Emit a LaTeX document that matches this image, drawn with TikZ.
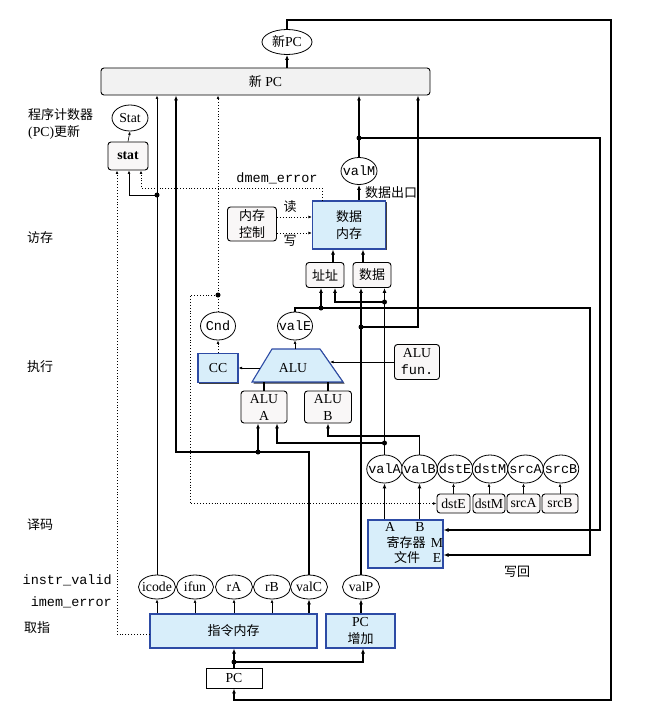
\documentclass[tikz,border=0pt]{standalone}
\usepackage{fontspec}
\setmainfont{Liberation Serif}[Scale=1.1]
\setmonofont{Liberation Mono}[Scale=1.08]
\newfontfamily\cjk{Noto Sans CJK SC}[Scale=1.04]
\usetikzlibrary{shapes.geometric,arrows.meta,shadows}
\newcommand\zh[1]{{\cjk #1}}
\newcommand\E[1]{\makebox[0pt][c]{#1}}
\definecolor{lblue}{RGB}{216,238,250}
\definecolor{bblue}{RGB}{45,75,165}
\definecolor{bgray}{RGB}{249,247,247}
\begin{document}
\begin{tikzpicture}[x=1pt,y=-1pt,font=\fontsize{12.5}{17}\selectfont,
 rbox/.style={draw=black,line width=0.9pt,fill=bgray,rounded corners=3pt,inner sep=0pt,align=center},
 bbox/.style={draw=bblue,line width=1.1pt,fill=lblue,inner sep=0pt,align=center,drop shadow={shadow xshift=1.4pt,shadow yshift=-1.4pt,fill=black!75,opacity=1}},
 ell/.style={draw,ellipse,line width=0.8pt,fill=white,inner sep=0pt},
 tk/.style={line width=1.7pt},
 tn/.style={line width=0.6pt},
 dt/.style={line width=0.9pt,dotted},
 tka/.style={tk,-{Latex[length=5pt,width=4pt]}},
 tna/.style={tn,-{Latex[length=3.5pt,width=2.8pt]}},
 dta/.style={dt,-{Latex[length=3.5pt,width=2.8pt]}},
 jdot/.style={circle,fill=black,inner sep=0pt,minimum size=5pt},
 lab/.style={inner sep=0pt}
]
\fill[white] (0,0) rectangle (647,709);
\useasboundingbox (0,0) rectangle (647,709);

% ---------- stage labels ----------
\node[lab,anchor=west,align=left] (pcu) at (28,124) {\zh{程序计数器}\\(PC)\zh{更新}};
\node[lab] (smem) at (40,238) {\zh{访存}};
\node[lab] (sexe) at (40,367) {\zh{执行}};
\node[lab] (sdec) at (40,525) {\zh{译码}};
\node[lab] (sfet) at (37,628) {\zh{取指}};
\node[lab,anchor=east] (iv) at (112,580) {\ttfamily instr\_valid};
\node[lab,anchor=east] (ie) at (112,602) {\ttfamily imem\_error};
\node[lab] (wb) at (517,572) {\zh{写回}};

% ---------- PC update ----------
\node[ell,minimum width=50pt,minimum height=25pt] (npcE) at (287,42) {\E{\zh{新}PC}};
\node[rbox,minimum width=329pt,minimum height=27pt,fill=gray!10] (npc) at (265.5,81.5) {\zh{新} PC};
\node[ell,minimum width=36pt,minimum height=26pt] (Stat) at (130,118) {\E{Stat}};
\node[rbox,minimum width=40pt,minimum height=28pt] (stat) at (128,156) {\bfseries stat};

% ---------- memory ----------
\node[lab] (dmerr) at (277,178) {\ttfamily dmem\_error};
\node[ell,minimum width=36pt,minimum height=27pt] (valM) at (359,171) {\E{\ttfamily valM}};
\node[lab] (dout) at (391,193) {\zh{数据出口}};
\node[bbox,minimum width=73pt,minimum height=48pt] (dmem) at (349,225) {\zh{数据}\\\zh{内存}};
\node[rbox,minimum width=49pt,minimum height=34pt] (mctl) at (252,224) {\zh{内存}\\\zh{控制}};
\node[lab] (rd) at (290,207) {\zh{读}};
\node[lab] (wr) at (290,241) {\zh{写}};
\node[rbox,minimum width=38pt,minimum height=25pt] (addr) at (325,275) {\zh{址址}};
\node[rbox,minimum width=38pt,minimum height=25pt] (data) at (372,275) {\zh{数据}};

% ---------- execute ----------
\node[ell,minimum width=35pt,minimum height=28pt] (Cnd) at (218,326) {\E{\ttfamily Cnd}};
\node[ell,minimum width=35pt,minimum height=28pt] (valE) at (295,326) {\E{\ttfamily valE}};
\node[bbox,minimum width=40pt,minimum height=29pt] (CC) at (218,368) {CC};
\coordinate (aluBL) at (252,382);
\coordinate (aluBR) at (343,382);
\coordinate (aluTR) at (320,349);
\coordinate (aluTL) at (272,349);
\fill[black!80] (253.5,383.5) -- (344.5,383.5) -- (321.5,350.5) -- (273.5,350.5) -- cycle;
\draw[draw=bblue,fill=lblue,line width=1.1pt] (aluBL) -- (aluBR) -- (aluTR) -- (aluTL) -- cycle;
\node[lab] (alu) at (293,368) {ALU};
\coordinate (aluW) at (260,368);
\coordinate (aluE) at (330,362);
\coordinate (aluN) at (295,349);
\node[rbox,minimum width=46pt,minimum height=32pt] (ALUA) at (264,407) {ALU\\A};
\node[rbox,minimum width=47pt,minimum height=32pt] (ALUB) at (328,407) {ALU\\B};
\node[rbox,minimum width=45pt,minimum height=35pt] (ALUf) at (417,362) {ALU\\{\ttfamily fun.}};

% ---------- decode ----------
\node[ell,minimum width=35.5pt,minimum height=28pt] (valA) at (384.5,469) {\E{\ttfamily valA}};
\node[ell,minimum width=35.5pt,minimum height=28pt] (valB) at (419.5,469) {\E{\ttfamily valB}};
\node[ell,minimum width=35.5pt,minimum height=28pt] (dstEe) at (455,469) {\E{\ttfamily dstE}};
\node[ell,minimum width=35.5pt,minimum height=28pt] (dstMe) at (490,469) {\E{\ttfamily dstM}};
\node[ell,minimum width=35.5pt,minimum height=28pt] (srcAe) at (525.5,469) {\E{\ttfamily srcA}};
\node[ell,minimum width=35.5pt,minimum height=28pt] (srcBe) at (561,469) {\E{\ttfamily srcB}};
\node[rbox,minimum width=33pt,minimum height=19pt] (dstEb) at (453.5,503.5) {dstE};
\node[rbox,minimum width=32pt,minimum height=19pt] (dstMb) at (489,503.5) {dstM};
\node[rbox,minimum width=33pt,minimum height=19pt] (srcAb) at (523.5,503.5) {srcA};
\node[rbox,minimum width=36pt,minimum height=19pt] (srcBb) at (560,503.5) {srcB};
\node[bbox,minimum width=75pt,minimum height=48pt] (reg) at (405.5,544) {};
\node[lab] (rgA) at (390,527) {A};
\node[lab] (rgB) at (420,527) {B};
\node[lab] (rgT1) at (406,543) {\zh{寄存器}};
\node[lab] (rgM) at (437,543) {M};
\node[lab] (rgT2) at (407,558) {\zh{文件}};
\node[lab] (rgE) at (437,558) {E};

% ---------- fetch ----------
\node[ell,minimum width=37pt,minimum height=24pt] (icode) at (157,587) {\E{icode}};
\node[ell,minimum width=37pt,minimum height=24pt] (ifun) at (195,587) {\E{ifun}};
\node[ell,minimum width=37pt,minimum height=24pt] (rA) at (234,587) {\E{rA}};
\node[ell,minimum width=37pt,minimum height=24pt] (rB) at (272,587) {\E{rB}};
\node[ell,minimum width=37pt,minimum height=24pt] (valC) at (309,587) {\E{valC}};
\node[ell,minimum width=37pt,minimum height=24pt] (valP) at (361,587) {\E{valP}};
\node[bbox,minimum width=167pt,minimum height=34pt] (imem) at (233.5,631) {\zh{指令内存}};
\node[bbox,minimum width=69pt,minimum height=34pt] (pcinc) at (360.5,631) {PC\\\zh{增加}};
\node[draw,line width=0.9pt,fill=white,minimum width=56pt,minimum height=20pt,inner sep=0pt] (pc) at (234,678) {PC};

% ---------- junction coordinates ----------
\coordinate (jI) at (157,195);
\coordinate (jN) at (218,295);
\coordinate (jC) at (258,452);
\coordinate (cC) at (176,452);
\coordinate (jA1) at (384.5,443);
\coordinate (jA2) at (384.5,302);
\coordinate (cB) at (419.5,436);
\coordinate (jE) at (321,308);
\coordinate (cE) at (590,308);
\coordinate (jP) at (361,327);
\coordinate (cP) at (418,327);
\coordinate (jM) at (359,138);
\coordinate (cM) at (600,138);
\coordinate (jPC) at (234,662);
\coordinate (de) at (141,188);
\coordinate (lp1) at (287,20);
\coordinate (lp2) at (611,20);
\coordinate (lp3) at (611,700);

% ---------- connectors ----------
\draw[tka] (npcE.south |- npc.north) -- (npcE.south);
\draw[tka] (npcE.north) -- (lp1) -- (lp2) -- (lp3) -| (pc.south);
\draw[tna] (stat.north) -- (Stat.south);

% icode
\draw[tna] (icode.north) -- (icode.north |- npc.south);
\draw[tna] (jI) -| ([xshift=1pt]stat.south);
% imem error
\draw[dta] ([yshift=-3pt]imem.west) -| ([xshift=-11pt]stat.south);
% dmem error
\draw[dta] ([xshift=-27pt]dmem.north) |- (de) -- ([xshift=13pt]stat.south);
% Cnd
\draw[dta] (Cnd.north) -- (Cnd.north |- npc.south);
\draw[dta] (jN) -- (190,295) |- (dstEb.west);
\draw[dta] (CC.north) -- (Cnd.south);
% ALU
\draw[tna] (aluW) -- (CC.east);
\draw[tna] (aluN) -- (valE.south);
\draw[tk] (ALUA.north) -- (ALUA.north |- aluBL);
\draw[tk] (ALUB.north) -- (ALUB.north |- aluBL);
\draw[tna] (ALUf.west) -- (aluE);
% valC
\draw[tka] (valC.north) |- (cC) -- (cC |- npc.south);
\draw[tka] (jC) -- (jC |- ALUA.south);
% valE
\draw[tka] (valE.north) |- (cE) |- ([yshift=-11pt]reg.east);
\draw[tka] (jE) -- (jE |- addr.south);
% valA
\draw[tka] (valA.north) -- (valA.north |- data.south);
\draw[tka] (jA1) -| ([xshift=13pt]ALUA.south);
\draw[tka] (jA2) -| ([xshift=10pt]addr.south);
% valB
\draw[tka] (valB.north) -- (cB) -| (ALUB.south);
% valP
\draw[tka] (valP.north) -- (valP.north |- data.south);
\draw[tka] (jP) -- (cP) -- (cP |- npc.south);
% valM
\draw[tka] (valM.south |- dmem.north) -- (valM.south);
\draw[tka] (valM.north) -- (valM.north |- npc.south);
\draw[tka] (jM) -- (cM) |- ([yshift=14pt]reg.east);
% memory inputs
\draw[tka] ([xshift=8pt]addr.north) -- ([xshift=8pt]addr.north |- dmem.south);
\draw[tka] ([xshift=-9pt]data.north) -- ([xshift=-9pt]data.north |- dmem.south);
\draw[dta] ([yshift=7pt]mctl.east) -- ([yshift=7pt]mctl.east -| dmem.west);
\draw[dta] ([yshift=-9pt]mctl.east) -- ([yshift=-9pt]mctl.east -| dmem.west);
% register file
\draw[tka] (valA.south |- reg.north) -- (valA.south);
\draw[tka] (valB.south |- reg.north) -- (valB.south);
\draw[tna] (dstEb.north) -- (dstEb.north |- dstEe.south);
\draw[tna] (dstMb.north) -- (dstMb.north |- dstMe.south);
\draw[tna] (srcAb.north) -- (srcAb.north |- srcAe.south);
\draw[tna] (srcBb.north) -- (srcBb.north |- srcBe.south);
% fetch
\draw[tna] (icode.south |- imem.north) -- (icode.south);
\draw[tna] (ifun.south |- imem.north) -- (ifun.south);
\draw[tna] (rA.south |- imem.north) -- (rA.south);
\draw[tna] (rB.south |- imem.north) -- (rB.south);
\draw[tka] (valC.south |- imem.north) -- (valC.south);
\draw[tka] (valP.south |- pcinc.north) -- (valP.south);
\draw[tka] (pc.north) -- (pc.north |- imem.south);
\draw[tka] (jPC) -| ([xshift=2.5pt]pcinc.south);

% dots
\foreach \p in {jI,jN,jC,jA1,jA2,jE,jP,jM,jPC} \node[jdot] at (\p) {};
\end{tikzpicture}
\end{document}
